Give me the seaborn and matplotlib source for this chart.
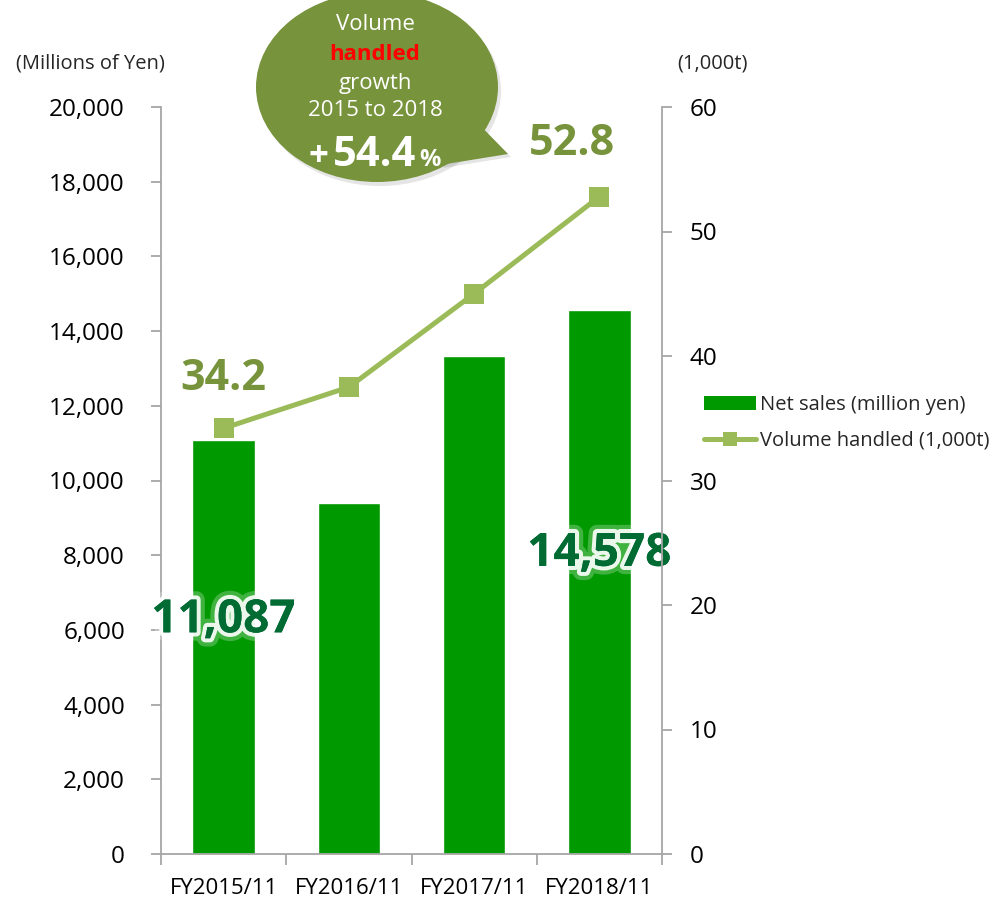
import numpy as np
import pandas as pd
import matplotlib
matplotlib.use("Agg")
import matplotlib.pyplot as plt
import matplotlib.patheffects as pe
from matplotlib.patches import Ellipse, Polygon, Rectangle
from matplotlib.lines import Line2D
from matplotlib.ticker import FuncFormatter, FixedLocator
import seaborn as sns

# ---- data ----
years = ["FY2015/11", "FY2016/11", "FY2017/11", "FY2018/11"]
net_sales = [11087, 9385, 13340, 14578]          # million yen
volume = [34.2, 37.5, 45.0, 52.8]                # 1,000 t
sales_ticks = [0, 2000, 4000, 6000, 8000, 10000, 12000, 14000, 16000, 18000, 20000]
volume_ticks = [0, 10, 20, 30, 40, 50, 60]
growth_pct = 54.4

# ---- style ----
W, H = 995, 899
BAR_GREEN = "#009900"
LINE_GREEN = "#9BBB59"
OLIVE = "#77933C"
DARK_GREEN = "#006B33"
AXIS_GREY = "#A6A6A6"

sns.set_theme(style="white")
plt.rcParams["font.family"] = ["Open Sans", "DejaVu Sans"]

fig = plt.figure(figsize=(W / 100, H / 100), dpi=100)
fig.patch.set_facecolor("white")


def px(x, y):
    """pixel position (top-left origin) -> figure fraction"""
    return x / W, 1 - y / H


ax = fig.add_axes([161 / W, 1 - 854 / H, (662 - 161) / W, (854 - 107) / H])
df = pd.DataFrame({"year": years, "sales": net_sales, "volume": volume})

sns.barplot(data=df, x="year", y="sales", color=BAR_GREEN, saturation=1,
            width=0.5, ax=ax, zorder=2)
ax.set_xlim(-0.5, 3.5)
ax.set_ylim(0, 20000)
ax.set_xlabel("")
ax.set_ylabel("")

ax2 = ax.twinx()
sns.lineplot(data=df, x="year", y="volume", ax=ax2, color=LINE_GREEN,
             linewidth=3.6, marker="s", markersize=14.5, markeredgewidth=0,
             markerfacecolor=LINE_GREEN, zorder=3)
ax2.set_ylim(0, 60)
ax2.set_xlim(-0.5, 3.5)
ax2.set_xlabel("")
ax2.set_ylabel("")

# ---- axes, ticks ----
for a in (ax, ax2):
    a.spines["top"].set_visible(False)
    for side in ("left", "right", "bottom"):
        a.spines[side].set_color(AXIS_GREY)
        a.spines[side].set_linewidth(1.3)
ax.spines["right"].set_visible(False)
ax2.spines["left"].set_visible(False)
ax2.spines["bottom"].set_visible(False)

ax.yaxis.set_major_locator(FixedLocator(sales_ticks))
ax.yaxis.set_major_formatter(FuncFormatter(lambda v, p: f"{int(v):,}"))
ax.tick_params(axis="y", direction="out", length=7, width=1.3, color=AXIS_GREY,
               labelsize=17.5, pad=19, left=True, labelcolor="#000000")

ax2.yaxis.set_major_locator(FixedLocator(volume_ticks))
ax2.tick_params(axis="y", direction="out", length=7, width=1.3, color=AXIS_GREY,
                labelsize=17.5, pad=13, right=True, labelcolor="#000000")

ax.set_xticks(range(len(years)))
ax.set_xticklabels(years)
ax.set_xticks(np.arange(-0.5, len(years), 1.0), minor=True)
ax.tick_params(axis="x", which="major", length=0, labelsize=16, pad=17,
               labelcolor="#000000")
ax.tick_params(axis="x", which="minor", direction="out", length=8, width=1.3,
               color=AXIS_GREY, bottom=True)
ax2.tick_params(axis="x", which="both", length=0, labelbottom=False)

# ---- axis unit captions ----
fig.text(*px(90, 64), "(Millions of Yen)", ha="center", va="center", fontsize=14.5)
fig.text(*px(712, 64), "(1,000t)", ha="center", va="center", fontsize=14.5)

# ---- value labels ----
glow = [pe.withStroke(linewidth=12, foreground=(1, 1, 1, 0.25)),
        pe.withStroke(linewidth=6, foreground=(1, 1, 1, 0.9)),
        pe.Normal()]
ax.text(0, 6270, f"{net_sales[0]:,}", ha="center", va="center", fontsize=33,
        fontweight="bold", color=DARK_GREEN, path_effects=glow, zorder=5)
ax.text(3, 8050, f"{net_sales[3]:,}", ha="center", va="center", fontsize=33,
        fontweight="bold", color=DARK_GREEN, path_effects=glow, zorder=5)
ax2.text(0, 38.2, f"{volume[0]}", ha="center", va="center", fontsize=31,
         fontweight="bold", color=OLIVE, zorder=5)
ax2.text(2.78, 57.1, f"{volume[3]}", ha="center", va="center", fontsize=31,
         fontweight="bold", color=OLIVE, zorder=5, clip_on=False)

# ---- legend ----
handles = [Rectangle((0, 0), 1, 1, facecolor=BAR_GREEN, edgecolor="none"),
           Line2D([], [], color=LINE_GREEN, linewidth=3.6, marker="s",
                  markersize=10, markeredgewidth=0)]
fig.legend(handles, ["Net sales (million yen)", "Volume handled (1,000t)"],
           loc="upper left", bbox_to_anchor=px(704, 395), frameon=False,
           fontsize=14.5, handlelength=2.6, handleheight=0.65, handletextpad=0.2,
           labelspacing=0.78, borderpad=0, borderaxespad=0)

# ---- speech balloon ----
ov = fig.add_axes([0, 0, 1, 1], zorder=10)
ov.set_xlim(0, W)
ov.set_ylim(H, 0)
ov.axis("off")
ov.patch.set_alpha(0)

ov.add_patch(Ellipse((380, 91), 242, 190, facecolor="#000000", alpha=0.10,
                     edgecolor="none"))
ov.add_patch(Polygon([(472, 118), (511, 157), (443, 168)], closed=True,
                     facecolor="#000000", alpha=0.10, edgecolor="none"))
ov.add_patch(Ellipse((377, 87), 242, 190, facecolor=OLIVE, edgecolor="none"))
ov.add_patch(Polygon([(470, 115), (508, 154), (440, 165)], closed=True,
                     facecolor=OLIVE, edgecolor="none"))

ov.text(375, 25, "Volume", ha="center", va="center", fontsize=16, color="white")
ov.text(375, 55, "handled", ha="center", va="center", fontsize=16,
        fontweight="bold", color="#FF0000")
ov.text(375, 83, "growth", ha="center", va="center", fontsize=16, color="white")
ov.text(375, 110, "2015 to 2018", ha="center", va="center", fontsize=16,
        color="white")
ov.text(309, 166, "+", ha="left", va="baseline", fontsize=25, fontweight="bold",
        color="white")
ov.text(333, 166, f"{growth_pct}", ha="left", va="baseline", fontsize=30,
        fontweight="bold", color="white")
ov.text(419, 166, "%", ha="left", va="baseline", fontsize=17, fontweight="bold",
        color="white")

fig.savefig("out.png", dpi=100)
